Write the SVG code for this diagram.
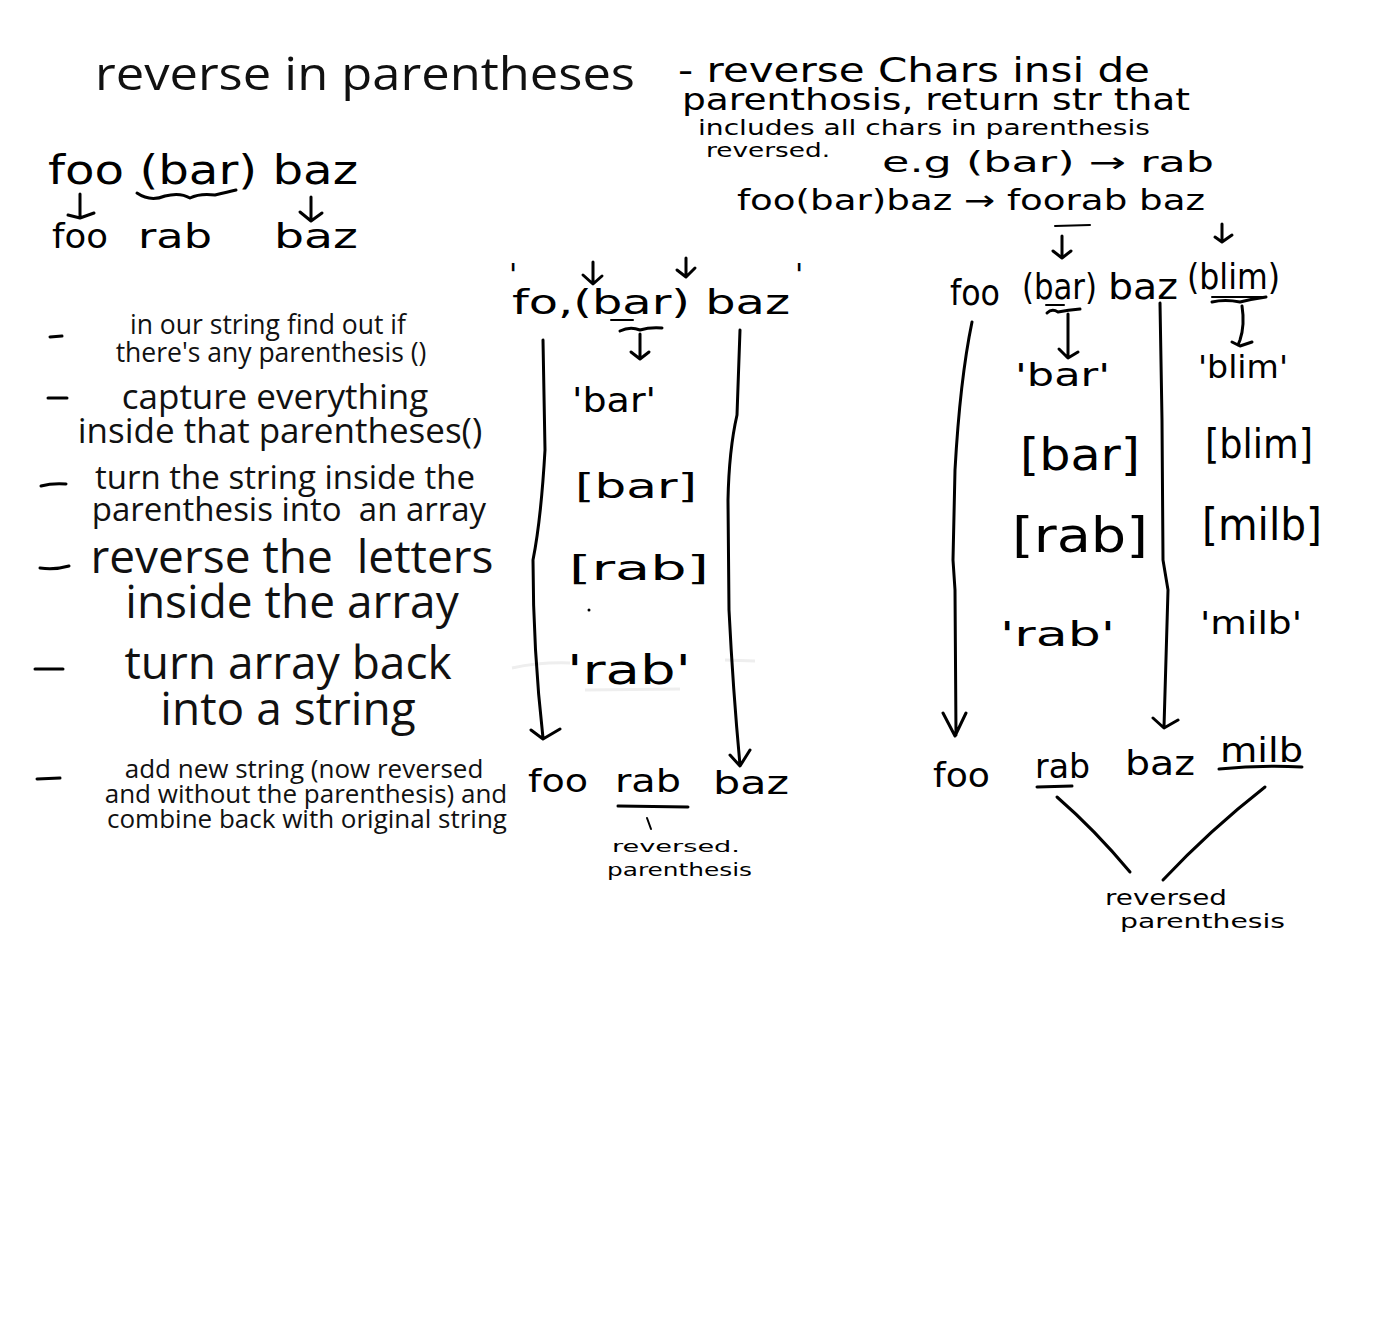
<svg xmlns="http://www.w3.org/2000/svg" width="1379" height="1327" viewBox="0 0 1379 1327">
<defs>
<style>
.ty{font-family:"Open Sans","Noto Sans",sans-serif;fill:#111;text-anchor:middle;white-space:pre}
.hw{font-family:"DejaVu Sans","Noto Sans",sans-serif;fill:#000}
.ln{fill:none;stroke:#000;stroke-width:3;stroke-linecap:round;stroke-linejoin:round}
.thin{fill:none;stroke:#000;stroke-width:2;stroke-linecap:round;stroke-linejoin:round}
</style>
</defs>
<rect width="1379" height="1327" fill="#fff"/>

<g id="title"><text class="ty" x="365" y="90" font-size="46" textLength="540" lengthAdjust="spacingAndGlyphs">reverse in parentheses</text></g>

<g id="steps">
<g id="step1">
<path class="ln" d="M50 337 L62 336"/>
<text class="ty" x="268" y="334" font-size="26.5">in our string find out if</text>
<text class="ty" x="271" y="362" font-size="26.5">there's any parenthesis ()</text>
</g>
<g id="step2">
<path class="ln" d="M48 398 L67 398"/>
<text class="ty" x="275" y="409" font-size="35">capture everything</text>
<text class="ty" x="280" y="443" font-size="35">inside that parentheses()</text>
</g>
<g id="step3">
<path class="ln" d="M41 486 Q52 483 66 484"/>
<text class="ty" x="285" y="489" font-size="33" xml:space="preserve">turn the string inside the</text>
<text class="ty" x="289" y="521" font-size="33" xml:space="preserve">parenthesis into  an array</text>
</g>
<g id="step4">
<path class="ln" d="M40 568 Q55 570 69 566"/>
<text class="ty" x="292" y="573" font-size="46" xml:space="preserve">reverse the  letters</text>
<text class="ty" x="292" y="618" font-size="46">inside the array</text>
</g>
<g id="step5">
<path class="ln" d="M35 669 L63 669"/>
<text class="ty" x="288" y="679" font-size="46">turn array back</text>
<text class="ty" x="288" y="725" font-size="46">into a string</text>
</g>
<g id="step6">
<path class="ln" d="M37 779 L60 778"/>
<text class="ty" x="304" y="778" font-size="26">add new string (now reversed</text>
<text class="ty" x="306" y="803" font-size="26">and without the parenthesis) and</text>
<text class="ty" x="307" y="828" font-size="26">combine back with original string</text>
</g>
</g>

<g id="notes">
<text class="hw" x="678" y="82" font-size="34" textLength="472" lengthAdjust="spacingAndGlyphs">- reverse Chars insi de</text>
<text class="hw" x="682" y="110" font-size="30" textLength="508" lengthAdjust="spacingAndGlyphs">parenthosis, return str that</text>
<text class="hw" x="698" y="135" font-size="22" textLength="452" lengthAdjust="spacingAndGlyphs">includes all chars in parenthesis</text>
<text class="hw" x="706" y="157" font-size="20" textLength="124" lengthAdjust="spacingAndGlyphs">reversed.</text>
<text class="hw" x="882" y="172" font-size="28" textLength="332" lengthAdjust="spacingAndGlyphs">e.g (bar) → rab</text>
<text class="hw" x="737" y="210" font-size="28" textLength="468" lengthAdjust="spacingAndGlyphs">foo(bar)baz → foorab baz</text>
<path class="thin" d="M1055 226 L1090 225"/>
</g>

<g id="example-left">
<text class="hw" x="48" y="184" font-size="40" textLength="310" lengthAdjust="spacingAndGlyphs">foo (bar) baz</text>
<path class="ln" d="M137 193 Q150 202 165 196 Q180 192 190 198 Q200 193 215 195 Q228 192 236 190"/>
<text class="hw" x="52" y="248" font-size="34" textLength="56" lengthAdjust="spacingAndGlyphs">foo</text>
<text class="hw" x="138" y="248" font-size="34" textLength="74" lengthAdjust="spacingAndGlyphs">rab</text>
<text class="hw" x="274" y="248" font-size="34" textLength="84" lengthAdjust="spacingAndGlyphs">baz</text>
</g>

<g id="example-middle">
<text class="hw" x="509" y="285" font-size="30">'</text>
<text class="hw" x="795" y="285" font-size="30">'</text>
<text class="hw" x="512" y="314" font-size="34" textLength="278" lengthAdjust="spacingAndGlyphs">fo,(bar) baz</text>
<path class="thin" d="M611 320 L633 320"/>
<path class="ln" d="M620 331 Q630 326 640 330 Q650 327 662 328"/>
<text class="hw" x="572" y="412" font-size="34" textLength="84" lengthAdjust="spacingAndGlyphs">'bar'</text>
<text class="hw" x="575" y="498" font-size="34" textLength="122" lengthAdjust="spacingAndGlyphs">[bar]</text>
<text class="hw" x="569" y="580" font-size="34" textLength="140" lengthAdjust="spacingAndGlyphs">[rab]</text>
<circle cx="589" cy="610" r="1.5" fill="#000"/>
<text class="hw" x="567" y="684" font-size="40" textLength="124" lengthAdjust="spacingAndGlyphs">'rab'</text>
<path d="M512 668 Q540 662 570 663 M725 660 L755 661 M585 690 L680 689" fill="none" stroke="#eee" stroke-width="3"/>
<text class="hw" x="528" y="792" font-size="32" textLength="60" lengthAdjust="spacingAndGlyphs">foo</text>
<text class="hw" x="615" y="792" font-size="32" textLength="66" lengthAdjust="spacingAndGlyphs">rab</text>
<text class="hw" x="713" y="794" font-size="32" textLength="76" lengthAdjust="spacingAndGlyphs">baz</text>
<path class="ln" d="M618 806 L688 807"/>
<path class="thin" d="M647 818 L651 829"/>
<text class="hw" x="612" y="852" font-size="16" textLength="128" lengthAdjust="spacingAndGlyphs">reversed.</text>
<text class="hw" x="607" y="876" font-size="18" textLength="145" lengthAdjust="spacingAndGlyphs">parenthesis</text>
</g>

<g id="example-right">
<text class="hw" x="950" y="305" font-size="36" textLength="50" lengthAdjust="spacingAndGlyphs">foo</text>
<text class="hw" x="1022" y="299" font-size="36" textLength="75" lengthAdjust="spacingAndGlyphs">(bar)</text>
<text class="hw" x="1108" y="299" font-size="36" textLength="70" lengthAdjust="spacingAndGlyphs">baz</text>
<text class="hw" x="1187" y="289" font-size="36" textLength="93" lengthAdjust="spacingAndGlyphs">(blim)</text>
<path class="thin" d="M1046 305 L1064 305"/>
<path class="ln" d="M1047 313 Q1052 308 1058 312 Q1068 310 1080 309"/>
<path class="thin" d="M1212 297 L1262 297"/>
<path class="ln" d="M1212 302 Q1225 299 1240 302 Q1252 299 1266 297"/>
<text class="hw" x="1015" y="386" font-size="32" textLength="95" lengthAdjust="spacingAndGlyphs">'bar'</text>
<text class="hw" x="1198" y="378" font-size="32" textLength="90" lengthAdjust="spacingAndGlyphs">'blim'</text>
<text class="hw" x="1020" y="470" font-size="44" textLength="120" lengthAdjust="spacingAndGlyphs">[bar]</text>
<text class="hw" x="1205" y="458" font-size="40" textLength="108" lengthAdjust="spacingAndGlyphs">[blim]</text>
<text class="hw" x="1012" y="552" font-size="48" textLength="136" lengthAdjust="spacingAndGlyphs">[rab]</text>
<text class="hw" x="1202" y="540" font-size="44" textLength="120" lengthAdjust="spacingAndGlyphs">[milb]</text>
<text class="hw" x="1000" y="646" font-size="34" textLength="115" lengthAdjust="spacingAndGlyphs">'rab'</text>
<text class="hw" x="1200" y="634" font-size="32" textLength="102" lengthAdjust="spacingAndGlyphs">'milb'</text>
<text class="hw" x="933" y="787" font-size="34" textLength="57" lengthAdjust="spacingAndGlyphs">foo</text>
<text class="hw" x="1035" y="778" font-size="34" textLength="55" lengthAdjust="spacingAndGlyphs">rab</text>
<text class="hw" x="1125" y="775" font-size="34" textLength="70" lengthAdjust="spacingAndGlyphs">baz</text>
<text class="hw" x="1220" y="762" font-size="34" textLength="83" lengthAdjust="spacingAndGlyphs">milb</text>
<path class="ln" d="M1037 787 L1072 786"/>
<path class="ln" d="M1219 769 Q1260 765 1302 767"/>
<text class="hw" x="1105" y="905" font-size="22" textLength="122" lengthAdjust="spacingAndGlyphs">reversed</text>
<text class="hw" x="1120" y="928" font-size="20" textLength="165" lengthAdjust="spacingAndGlyphs">parenthesis</text>
</g>

<g id="connectors">
<path class="ln" d="M80 194 L80 216 M68 215 L80 218 L94 213"/>
<path class="ln" d="M311 197 L311 220 M300 212 L311 221 L322 213"/>
<path class="ln" d="M593 262 L593 283 M583 275 L593 284 L602 276"/>
<path class="ln" d="M686 258 L686 276 M677 270 L686 277 L695 268"/>
<path class="ln" d="M640 334 L640 358 M631 352 L640 359 L649 352"/>
<path class="ln" d="M543 340 L545 450 Q541 520 533 560 Q533 650 543 738 M531 730 L543 739 L560 729"/>
<path class="ln" d="M740 330 L737 415 Q729 450 728 500 L729 610 Q733 690 740 765 M730 755 L740 766 L750 750"/>
<path class="ln" d="M1062 236 L1062 257 M1053 251 L1062 258 L1071 251"/>
<path class="ln" d="M1222 224 L1222 241 M1215 237 L1222 242 L1232 235"/>
<path class="ln" d="M1068 314 L1068 357 M1059 349 L1068 358 L1078 352"/>
<path class="ln" d="M1242 306 Q1245 325 1240 340 L1238 345 M1232 342 L1240 346 L1252 342"/>
<path class="ln" d="M972 322 Q960 380 955 470 L953 560 L955 590 L956 735 M943 713 L955 736 L966 713"/>
<path class="ln" d="M1160 303 L1162 420 L1163 560 L1168 590 L1164 727 M1153 718 L1164 728 L1178 720"/>
<path class="ln" d="M1057 797 Q1095 830 1130 872"/>
<path class="ln" d="M1265 787 Q1210 830 1163 880"/>
</g>
</svg>
